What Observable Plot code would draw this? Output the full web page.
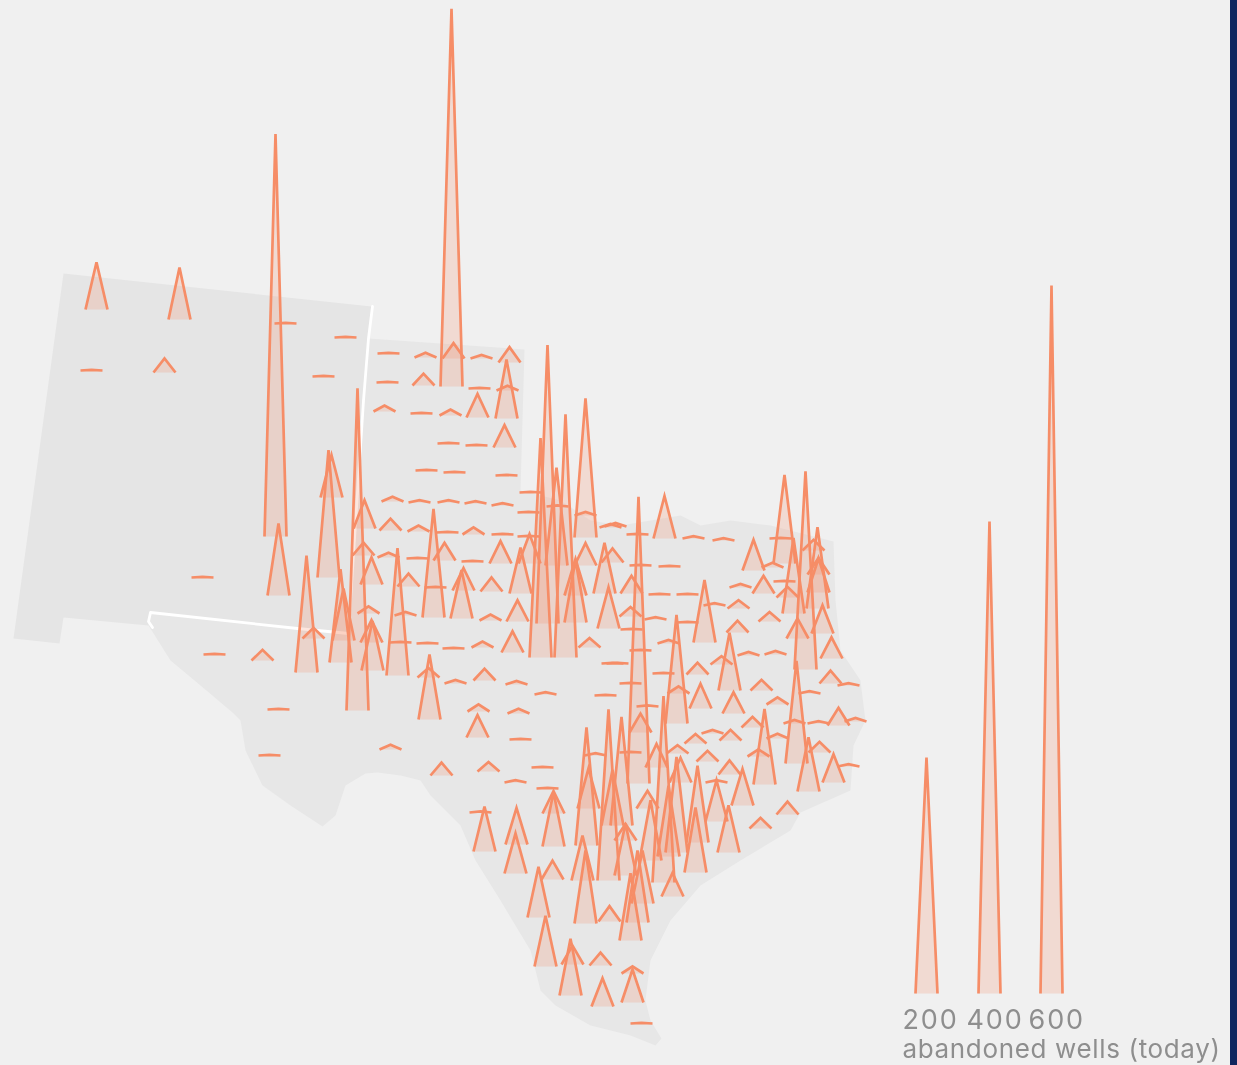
<!DOCTYPE html>
<html>
<head>
<meta charset="utf-8">
<script src="https://cdn.jsdelivr.net/npm/d3@7"></script>
<script src="https://cdn.jsdelivr.net/npm/@observablehq/plot@0.6"></script>
<style>
html,body{margin:0;padding:0;background:#f0f0f0;width:1237px;height:1065px;overflow:hidden}
svg{display:block;filter:blur(.6px)}
#edge{position:absolute;top:0;right:0;width:7px;height:1065px;background:#10265f}
.digits text{letter-spacing:1.9px}
.title text{letter-spacing:.65px}
</style>
</head>
<body>
<div id="chart"></div><div id="edge"></div>
<script>
// Rows are [map x, map y, abandoned wells]
const newMexico = [[96,309,40],[179,319,44],[91,370,.5],[164,372,12],[275,536,341],[285,323,.5],[345,337,.5],[323,376,.5],[278,595,61],[202,577,.5],[328,577,108],[331,497,36]];
const panhandle = [[388,353,.5],[425,357,4],[451,386,320],[453,358,13],[481,358,3],[509,362,13],[387,382,.5],[423,385,10],[479,388,.5],[506,418,50],[507,390,4],[384,411,5],[421,413,.5],[450,415,5],[477,417,20],[448,443,.5],[476,445,.5],[504,447,19],[426,470,.5],[454,472,.5],[506,475,.5],[530,492,.5],[392,501,4],[419,502,2],[448,502,2],[475,503,2],[502,505,2],[528,512,.5]];
const rollingPlains = [[547,623,236],[540,657,186],[565,657,206],[556,565,83],[575,622,53],[585,537,118],[520,593,39],[529,563,25],[575,595,31],[585,565,19],[604,593,43],[612,562,12],[608,628,35],[610,527,3],[585,515,3],[557,506,1],[589,647,8],[364,528,24],[390,530,10],[418,531,5],[447,532,.5],[473,534,6],[502,534,.5],[528,536,.5],[363,555,11],[388,557,4],[433,617,92],[444,560,15],[417,558,.5],[472,561,.5],[500,563,19],[371,584,23],[397,675,108],[408,586,11],[435,587,.5],[463,590,19],[461,618,41],[491,591,12],[368,613,6],[405,615,3],[490,620,5],[517,621,18],[371,642,19],[372,670,42],[400,642,.5],[427,643,.5],[453,648,.5],[482,647,5],[512,652,18]];
const westTexas = [[357,710,273],[306,672,99],[313,638,9],[340,662,79],[343,640,44],[429,719,55],[428,677,8],[455,683,3],[484,680,10],[516,684,3],[545,694,2],[612,663,.5],[605,695,.5],[478,711,6],[518,713,4],[214,654,.5],[262,660,9],[278,709,.5],[269,755,.5],[390,749,4],[441,775,11],[488,771,8],[542,767,.5],[515,782,2],[547,788,.5],[477,737,19],[520,739,.5]];
const southTexas = [[484,851,38],[480,812,1],[516,844,31],[515,873,34],[553,813,19],[553,846,46],[538,917,43],[552,879,16],[545,966,43],[570,995,48],[572,964,16],[600,965,11],[602,1006,24],[632,973,6],[632,1002,28],[641,1023,.5],[609,921,13],[585,923,62],[582,880,38],[608,880,145],[630,940,57],[637,922,61],[642,903,45],[672,896,20],[625,875,44]];
const centralTexas = [[586,845,100],[595,755,2],[588,808,34],[612,825,47],[621,825,92],[638,783,243],[640,732,16],[647,706,1],[630,752,.5],[663,882,158],[656,767,20],[677,753,7],[676,723,92],[700,708,21],[733,713,18],[695,743,8],[712,733,3],[707,761,9],[730,740,9],[729,774,12],[742,805,31],[716,821,35],[716,782,2],[728,852,40],[697,842,65],[695,872,55],[676,852,81],[680,782,21],[668,856,60],[647,808,15],[650,860,51],[625,840,14],[663,673,.5],[668,643,3],[678,693,6],[640,650,.5],[617,663,.5],[630,683,.5]];
const eastTexas = [[664,538,36],[637,534,.5],[615,526,3],[693,538,2],[723,540,2],[640,565,.5],[669,566,.5],[631,593,15],[659,594,.5],[687,594,.5],[630,616,8],[655,619,2],[631,629,.5],[687,622,.5],[704,642,53],[714,605,2],[738,608,7],[740,587,3],[753,570,26],[772,567,4],[763,593,15],[784,563,75],[780,538,.5],[805,669,168],[793,613,64],[784,581,.5],[787,597,9],[769,621,8],[817,608,69],[813,550,9],[818,574,14],[818,592,29],[822,633,24],[797,638,17],[831,658,18],[830,683,11],[848,685,2],[761,690,9],[775,654,3],[748,655,3],[729,690,49],[721,664,7],[737,632,10],[697,674,10]];
const gulfCoast = [[796,763,87],[809,693,2],[777,704,6],[752,727,9],[764,784,64],[758,756,6],[794,723,3],[818,723,2],[838,725,15],[855,721,3],[777,738,4],[819,752,9],[808,791,46],[833,782,24],[848,766,2],[787,814,11],[760,828,9]];
const legendSpikes = [[926,993,200],[989,993,400],[1051,993,600]];
const legendLabels = ["200","400","600"];
const legendLabelX = [902,966,1028];
const legendTitle = "abandoned wells (today)";

const nmX = [63,371,368,363,350,348,297,150,148,63,59,13];
const nmY = [273,306,338,400,600,633,628,612,625,617,643,638];
const txX = [368,524,520,560,590,620,680,700,730,770,833,835,840,860,865,853,850,800,790,740,700,670,650,645,650,661,655,630,590,555,540,530,500,475,460,430,420,400,377,365,345,335,322,290,262,245,240,232,200,170,148,150,297,348];
const txY = [338,349,490,500,520,525,515,525,520,525,541,600,650,680,720,745,790,812,830,860,885,920,960,1000,1020,1038,1045,1035,1025,1005,990,950,900,860,825,795,780,775,772,773,785,815,826,805,785,750,720,712,685,660,625,612,628,633];
const borderX = [372,368,363,350,348,297,150,148,152];
const borderY = [306,338,400,600,633,628,612,621,627];

const rows = [...newMexico,...panhandle,...rollingPlains,...westTexas,...southTexas,...centralTexas,...eastTexas,...gulfCoast,...legendSpikes];
const spikes = rows.map(([x,y,wells])=>({x,y,wells}));
const nm = nmX.map((x,i)=>({x,y:nmY[i]}));
const tx = txX.map((x,i)=>({x,y:txY[i]}));
const border = borderX.map((x,i)=>({x,y:borderY[i]}));
const labels = legendLabels.map((t,i)=>({t,x:legendLabelX[i],y:1020}));

const chart = Plot.plot({
  width:1237,height:1065,margin:0,
  style:{background:"#f0f0f0"},
  x:{domain:[0,1237],range:[0,1237],axis:null},
  y:{domain:[0,1065],range:[0,1065],axis:null},
  length:{domain:[0,600],range:[0,708]},
  marks:[
    Plot.line(nm,{x:"x",y:"y",fill:"#e5e5e5",stroke:"none"}),
    Plot.line(tx,{x:"x",y:"y",fill:"#e7e7e7",stroke:"none"}),
    Plot.line(border,{x:"x",y:"y",stroke:"#ffffff",strokeWidth:2.8}),
    Plot.spike(spikes,{x:"x",y:"y",length:"wells",r:11,fill:"#f68d67",fillOpacity:.22,stroke:"#f68d67",strokeWidth:2.7,strokeLinecap:"butt",strokeLinejoin:"miter"}),
    Plot.text(labels,{x:"x",y:"y",text:"t",textAnchor:"start",fontFamily:"Inter",fontWeight:400,fontSize:27,fill:"#8e8e8e",className:"digits"}),
    Plot.text([legendTitle],{x:[902],y:[1049],textAnchor:"start",fontFamily:"Inter",fontWeight:400,fontSize:26,fill:"#8e8e8e",className:"title"})
  ]
});
document.getElementById("chart").append(chart);
</script>
</body>
</html>
